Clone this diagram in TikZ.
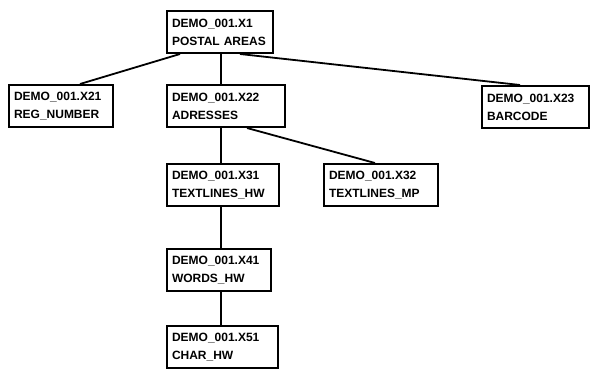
\documentclass[tikz,border=0pt]{standalone}
\usepackage{fontspec}
\setmainfont{Liberation Sans}

\begin{document}
\begin{tikzpicture}[
    x=1pt, y=-1pt,
    font=\fontsize{12}{18}\selectfont\bfseries,
    % Styles
    tablebox/.style={
        rectangle, draw=black, line width=2pt,
        anchor=north west, align=left,
        inner xsep=5pt, inner ysep=0pt,
        minimum height=42pt, text width=#1
    },
    link/.style={draw=black, line width=1.8pt},
]

\useasboundingbox (0,0) rectangle (590,368);

%--- Level 1 ---%
\node[tablebox=96pt] (root) at (166,10) {DEMO\_001.X1\\POSTAL AREAS};

%--- Level 2 ---%
\node[tablebox=94pt]  (x21) at (8,84)   {DEMO\_001.X21\\REG\_NUMBER};
\node[tablebox=108pt] (x22) at (166,84) {DEMO\_001.X22\\ADRESSES};
\node[tablebox=97pt]  (x23) at (481,85) {DEMO\_001.X23\\BARCODE};

%--- Level 3 ---%
\node[tablebox=102pt] (x31) at (166,163) {DEMO\_001.X31\\TEXTLINES\_HW};
\node[tablebox=104pt] (x32) at (323,163) {DEMO\_001.X32\\TEXTLINES\_MP};

%--- Level 4 and 5 ---%
\node[tablebox=94pt]  (x41) at (166,248) {DEMO\_001.X41\\WORDS\_HW};
\node[tablebox=101pt] (x51) at (166,325) {DEMO\_001.X51\\CHAR\_HW};

%--- Links ---%
% main column at x = 221
\foreach \a/\b in {root/x22, x22/x31, x31/x41, x41/x51}
    \draw[link] ([xshift=55pt]\a.south west) -- ([xshift=55pt]\b.north west);

\draw[link] ([xshift=14pt]root.south west) -- ([xshift=72pt]x21.north west);
\draw[link] ([xshift=74pt]root.south west) -- ([xshift=39pt]x23.north west);
\draw[link] ([xshift=81pt]x22.south west) -- ([xshift=52pt]x32.north west);

\end{tikzpicture}
\end{document}
